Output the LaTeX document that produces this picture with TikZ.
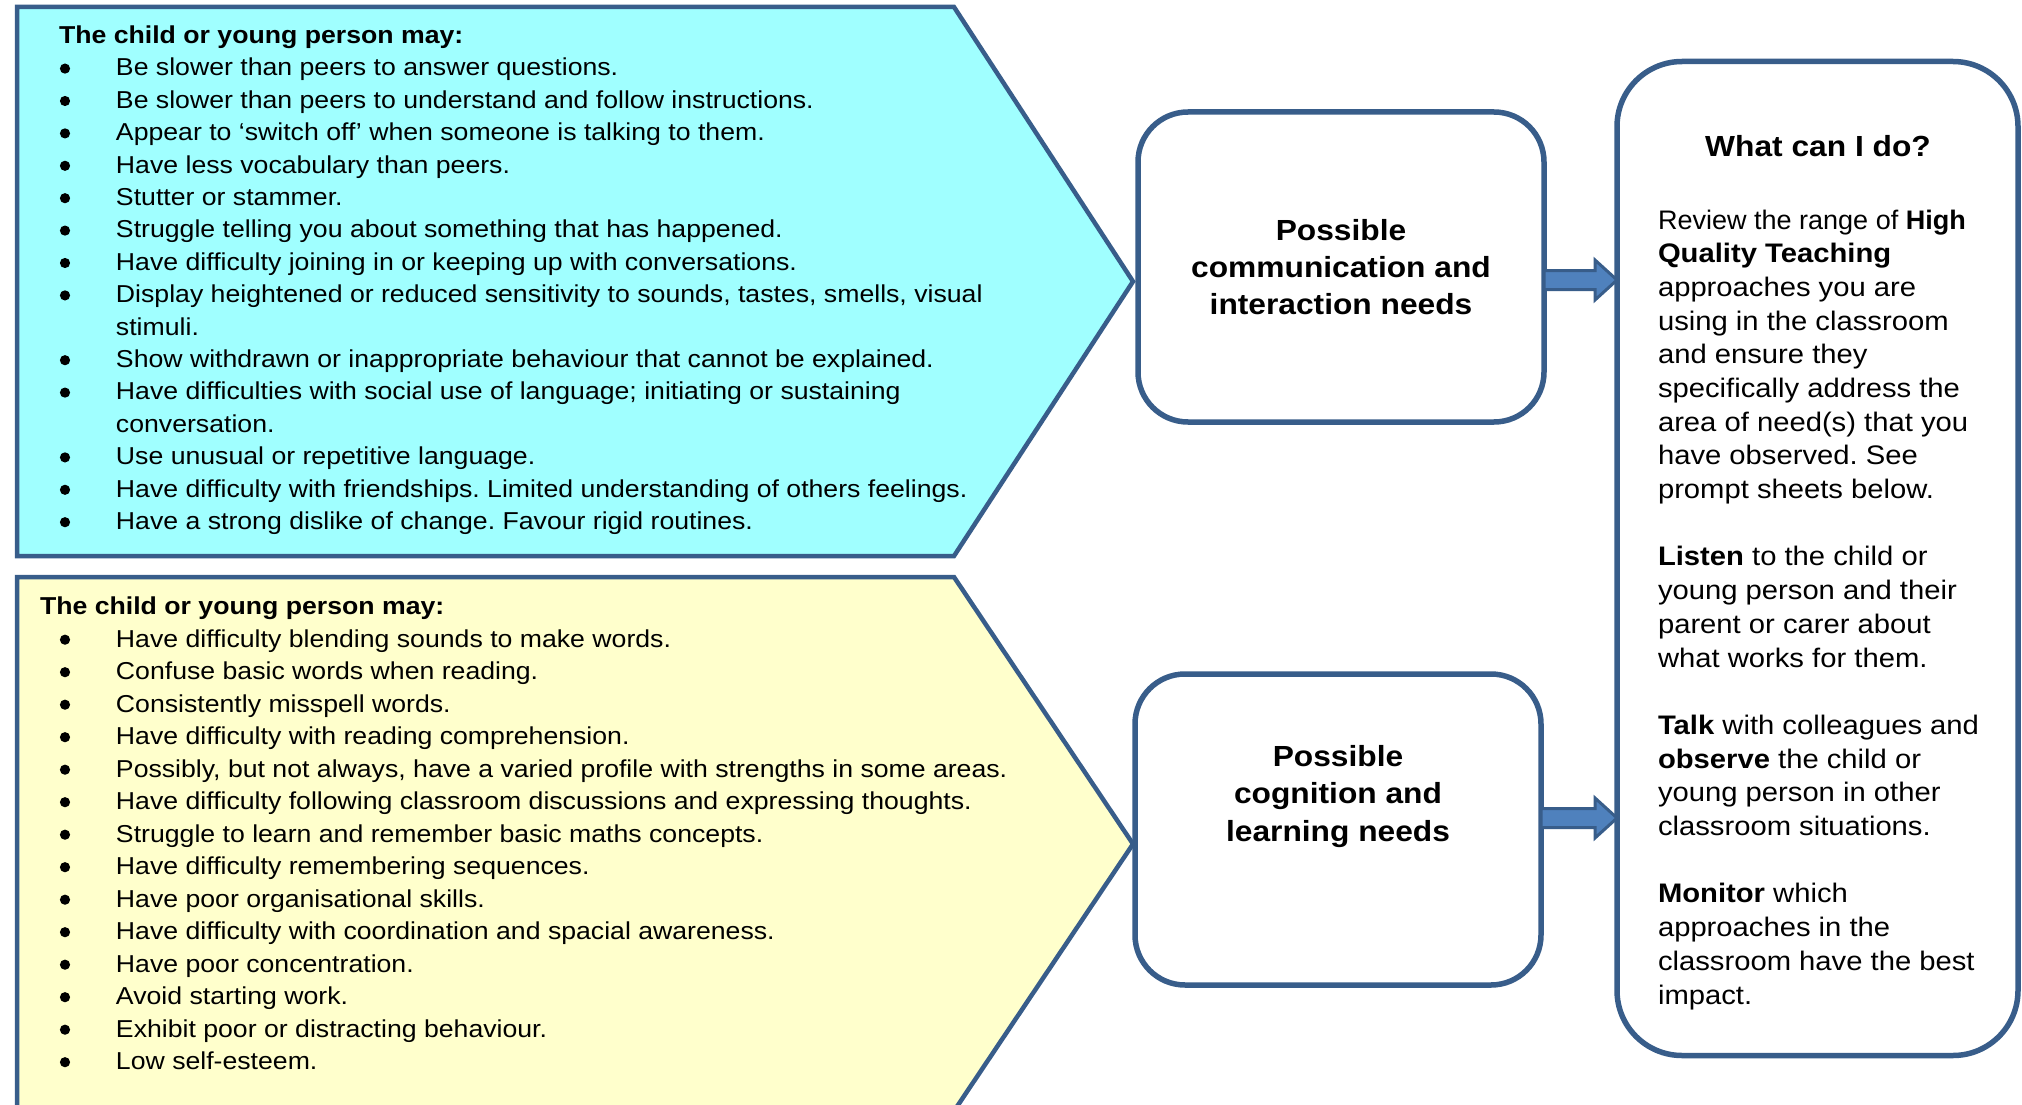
\documentclass[tikz,border=0pt]{standalone}
\usepackage{graphicx}
\usepackage{fontspec}
\setmainfont[FakeStretch=1.09]{Liberation Sans}
\usetikzlibrary{calc}
\definecolor{bordc}{HTML}{385D8A}
\definecolor{cyanf}{HTML}{A0FFFF}
\definecolor{yelf}{HTML}{FFFFCC}
\definecolor{arrf}{HTML}{4F81BD}
\newcommand\itm[1]{\hspace*{57pt}#1}
\newcommand\itmb[1]{\hspace*{76pt}#1}
\newcommand\blkarrow[2]{%
  \draw[blkarr] ($(#1)+(0,-9.5)$) -- ($(#2)+(-22,-9.5)$) -- ($(#2)+(-22,-20)$) -- (#2)
    -- ($(#2)+(-22,20)$) -- ($(#2)+(-22,9.5)$) -- ($(#1)+(0,9.5)$) -- cycle;}
\tikzset{
  chev/.style={draw=bordc, line width=4.5pt, line join=miter},
  midbox/.style={draw=bordc, line width=5.5pt, fill=white, rounded corners=50pt,
    minimum width=406pt, minimum height=310pt, inner sep=0pt, outer sep=0pt},
  bigbox/.style={draw=bordc, line width=5.5pt, fill=white, rounded corners=65pt,
    minimum width=401pt, minimum height=994pt, inner sep=0pt, outer sep=0pt},
  blkarr/.style={draw=bordc, fill=arrf, line width=3pt, line join=miter},
  bulletdot/.style={fill=black},
  txt/.style={inner sep=0pt, outer sep=0pt}
}
\frenchspacing
\begin{document}
\begin{tikzpicture}[x=1pt,y=-1pt]
\useasboundingbox (0,0) rectangle (2022,1105);
\clip (0,0) rectangle (2022,1105);
\fill[white] (0,0) rectangle (2022,1105);

% chevrons
\draw[chev, fill=cyanf] (17,7) -- (954,7) -- (1133,281.5) -- (954,556) -- (17,556) -- cycle;
\draw[chev, fill=yelf] (17,577) -- (954,577) -- (1133,844) -- (954,1111) -- (17,1111) -- cycle;

% boxes
\node[midbox] (comm) at (1341,267) {};
\node[midbox, minimum height=311pt] (cogn) at (1338,829.5) {};
\node[bigbox] (what) at (1817.5,558.5) {};

% arrows
\coordinate (ya) at (0,280);
\coordinate (yb) at (0,818);
\coordinate (a1) at (comm.east |- ya);
\coordinate (b1) at (what.west |- ya);
\coordinate (a2) at (cogn.east |- yb);
\coordinate (b2) at (what.west |- yb);
\blkarrow{a1}{b1}
\blkarrow{a2}{b2}

% texts in middle boxes
\node[txt, anchor=base] (commt) at (1341,240.7) {\begin{minipage}[t]{400pt}\centering\fontsize{29.1}{36.7}\selectfont\bfseries
Possible\\communication and\\interaction needs\end{minipage}};
\node[txt, anchor=base] (cognt) at (1338,766) {\begin{minipage}[t]{400pt}\centering\fontsize{29.1}{37.5}\selectfont\bfseries
Possible\\cognition and\\learning needs\end{minipage}};

% right box texts
\node[txt, anchor=base] (title) at (1818,156.7) {\fontsize{29.1}{36}\selectfont\bfseries What can I do?};
\node[txt, anchor=base west] (whatt) at (1658,229) {\begin{minipage}[t]{355pt}\fontsize{26.8}{33.7}\selectfont
\scalebox{0.925}[1]{Review the range of \textbf{High}}\\
\textbf{Quality Teaching}\\
approaches you are\\
using in the classroom\\
and ensure they\\
specifically address the\\
area of need(s) that you\\
have observed. See\\
prompt sheets below.\\[33.7pt]
\textbf{Listen} to the child or\\
young person and their\\
parent or carer about\\
what works for them.\\[33.7pt]
\textbf{Talk} with colleagues and\\
\textbf{observe} the child or\\
young person in other\\
classroom situations.\\[33.7pt]
\textbf{Monitor} which\\
approaches in the\\
classroom have the best\\
impact.\end{minipage}};

% left lists
\node[txt, anchor=base west] (list1) at (59,43.5) {\begin{minipage}[t]{1000pt}\fontsize{24.45}{32.4}\selectfont
\textbf{The child or young person may:}\\
\itm{Be slower than peers to answer questions.}\\
\itm{Be slower than peers to understand and follow instructions.}\\
\itm{Appear to ‘switch off’ when someone is talking to them.}\\
\itm{Have less vocabulary than peers.}\\
\itm{Stutter or stammer.}\\
\itm{Struggle telling you about something that has happened.}\\
\itm{Have difficulty joining in or keeping up with conversations.}\\
\itm{Display heightened or reduced sensitivity to sounds, tastes, smells, visual}\\
\hspace*{57pt}stimuli.\\
\itm{Show withdrawn or inappropriate behaviour that cannot be explained.}\\
\itm{Have difficulties with social use of language; initiating or sustaining}\\
\hspace*{57pt}conversation.\\
\itm{Use unusual or repetitive language.}\\
\itm{Have difficulty with friendships. Limited understanding of others feelings.}\\
\itm{Have a strong dislike of change. Favour rigid routines.}\end{minipage}};

\node[txt, anchor=base west] (list2) at (40,614) {\begin{minipage}[t]{1000pt}\fontsize{24.45}{32.5}\selectfont
\textbf{The child or young person may:}\\[0.5pt]
\itmb{Have difficulty blending sounds to make words.}\\
\itmb{Confuse basic words when reading.}\\
\itmb{Consistently misspell words.}\\
\itmb{Have difficulty with reading comprehension.}\\
\itmb{Possibly, but not always, have a varied profile with strengths in some areas.}\\
\itmb{Have difficulty following classroom discussions and expressing thoughts.}\\
\itmb{Struggle to learn and remember basic maths concepts.}\\
\itmb{Have difficulty remembering sequences.}\\
\itmb{Have poor organisational skills.}\\
\itmb{Have difficulty with coordination and spacial awareness.}\\
\itmb{Have poor concentration.}\\
\itmb{Avoid starting work.}\\
\itmb{Exhibit poor or distracting behaviour.}\\
\itmb{Low self-esteem.}\end{minipage}};

% bullets
\foreach \n in {1,...,8,10,11,13,14,15}
  \fill[bulletdot] (65,{43.5+32.4*\n-7.3}) circle[radius=5.1pt];
\foreach \k in {0,...,13}
  \fill[bulletdot] (65,{647+32.5*\k-7.3}) circle[radius=5.1pt];
\end{tikzpicture}
\end{document}
